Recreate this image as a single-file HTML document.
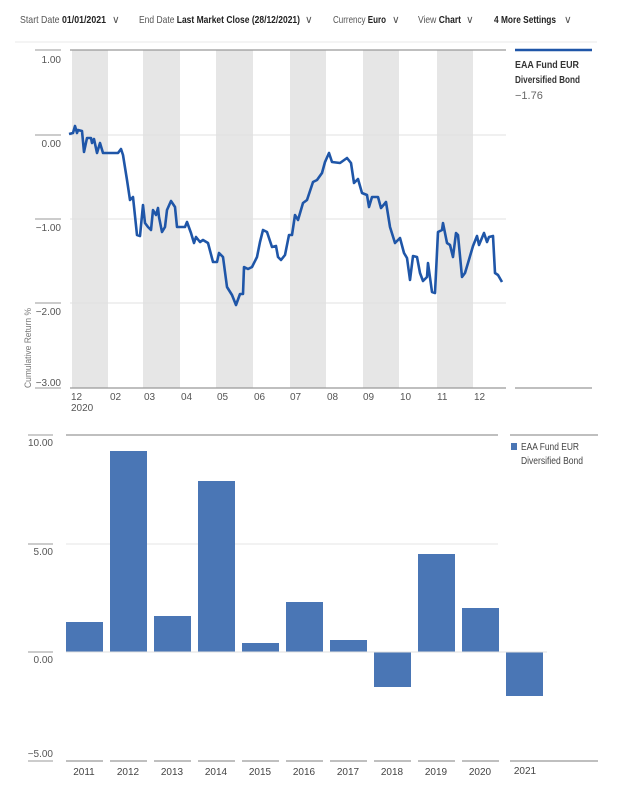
<!DOCTYPE html>
<html><head><meta charset="utf-8"><style>
body{margin:0;width:636px;height:801px;background:#fff;font-family:"Liberation Sans",sans-serif;overflow:hidden}
svg{position:absolute;left:0;top:0}
</style></head><body>
<svg width="636" height="801" viewBox="0 0 636 801" font-family="Liberation Sans, sans-serif">
<g font-size="10.5" fill="#555">
<text x="20" y="23" textLength="86" lengthAdjust="spacingAndGlyphs">Start Date <tspan fill="#222" font-weight="bold">01/01/2021</tspan></text>
<text x="112" y="23">∨</text>
<text x="139" y="23" textLength="161" lengthAdjust="spacingAndGlyphs">End Date <tspan fill="#222" font-weight="bold">Last Market Close (28/12/2021)</tspan></text>
<text x="305" y="23">∨</text>
<text x="333" y="23" textLength="53" lengthAdjust="spacingAndGlyphs">Currency <tspan fill="#222" font-weight="bold">Euro</tspan></text>
<text x="392" y="23">∨</text>
<text x="418" y="23" textLength="43" lengthAdjust="spacingAndGlyphs">View <tspan fill="#222" font-weight="bold">Chart</tspan></text>
<text x="466" y="23">∨</text>
<text x="494" y="23" textLength="62" lengthAdjust="spacingAndGlyphs" fill="#222" font-weight="bold">4 More Settings</text>
<text x="564" y="23">∨</text>
</g>
<line x1="15" y1="42" x2="597" y2="42" stroke="#e8e8e8"/>
<g fill="#e6e6e6">
<rect x="72" y="50" width="36" height="338"/><rect x="143" y="50" width="37" height="338"/>
<rect x="216" y="50" width="37" height="338"/><rect x="290" y="50" width="36" height="338"/>
<rect x="363" y="50" width="36" height="338"/><rect x="437" y="50" width="36" height="338"/>
</g>
<g stroke="#e0e0e0"><line x1="70" y1="135" x2="506" y2="135"/><line x1="70" y1="219" x2="506" y2="219"/><line x1="70" y1="303" x2="506" y2="303"/></g>
<line x1="70" y1="50" x2="506" y2="50" stroke="#999" stroke-width="1.2"/>
<line x1="70" y1="388" x2="506" y2="388" stroke="#999" stroke-width="1.2"/>
<g stroke="#999"><line x1="35" y1="50" x2="61" y2="50"/><line x1="35" y1="135" x2="61" y2="135"/><line x1="35" y1="219" x2="61" y2="219"/><line x1="35" y1="303" x2="61" y2="303"/><line x1="35" y1="388" x2="61" y2="388"/></g>
<g font-size="10" fill="#555" text-anchor="end">
<text x="61" y="63">1.00</text><text x="61" y="147">0.00</text><text x="61" y="231">−1.00</text><text x="61" y="315">−2.00</text><text x="61" y="386">−3.00</text>
</g>
<text transform="translate(31,388) rotate(-90)" font-size="9" fill="#777" textLength="80" lengthAdjust="spacingAndGlyphs">Cumulative Return %</text>
<g font-size="10" fill="#555">
<text x="71" y="400">12</text><text x="71" y="411">2020</text>
<text x="110" y="400">02</text><text x="144" y="400">03</text><text x="181" y="400">04</text><text x="217" y="400">05</text><text x="254" y="400">06</text><text x="290" y="400">07</text><text x="327" y="400">08</text><text x="363" y="400">09</text><text x="400" y="400">10</text><text x="437" y="400">11</text><text x="474" y="400">12</text>
</g>
<polyline fill="none" stroke="#1f56a8" stroke-width="2.6" stroke-linejoin="round" points="69,134 73,133 75,126 77,133 78,130 82,131 84,152 87,138 91,138 92,143 94,139 97,153 100,143 103,153 108,153 118,153 121,149 123,155 127,180 130,200 133,197 137,235 140,236 143,205 145,223 148,227 151,230 153,210 156,215 158,208 159,217 162,232 165,227 167,210 171,201 175,207 177,227 185,227 187,222 191,233 194,243 196,237 200,242 203,240 208,243 213,262 217,262 219,253 223,257 227,287 232,295 236,305 240,294 243,294 244,267 248,269 252,267 257,257 260,242 263,230 267,232 272,247 276,246 278,257 281,260 285,255 287,245 289,235 292,235 295,215 298,220 303,203 307,200 313,182 317,180 322,173 325,162 329,153 332,162 340,163 347,158 351,163 354,183 358,179 362,193 367,195 369,207 372,197 378,197 381,208 386,202 390,227 395,243 400,238 404,253 407,258 410,280 413,256 417,257 420,273 423,281 427,277 428,263 432,292 435,293 438,232 442,230 443,223 447,243 450,245 453,257 456,233 458,235 462,277 465,273 468,263 473,246 477,236 479,245 484,233 487,242 489,237 493,236 495,273 498,275 502,282"/>
<line x1="515" y1="50" x2="592" y2="50" stroke="#1f56a8" stroke-width="2.5"/>
<text x="515" y="68" font-size="10" font-weight="bold" fill="#333" textLength="64" lengthAdjust="spacingAndGlyphs">EAA Fund EUR</text>
<text x="515" y="83" font-size="10" font-weight="bold" fill="#333" textLength="65" lengthAdjust="spacingAndGlyphs">Diversified Bond</text>
<text x="515" y="99" font-size="11" fill="#666">−1.76</text>
<line x1="515" y1="388" x2="592" y2="388" stroke="#999" stroke-width="1.2"/>
<line x1="66" y1="435" x2="498" y2="435" stroke="#999" stroke-width="1.2"/>
<line x1="66" y1="544" x2="498" y2="544" stroke="#e6e6e6"/>
<g stroke="#999"><line x1="28" y1="435" x2="53" y2="435"/><line x1="28" y1="544" x2="53" y2="544"/><line x1="28" y1="652" x2="53" y2="652"/><line x1="28" y1="761" x2="53" y2="761"/></g>
<g font-size="10" fill="#555" text-anchor="end">
<text x="53" y="446">10.00</text><text x="53" y="555">5.00</text><text x="53" y="663">0.00</text><text x="53" y="757">−5.00</text>
</g>
<g fill="#4a76b5">
<rect x="66" y="622" width="37" height="30"/><rect x="110" y="451" width="37" height="201"/>
<rect x="154" y="616" width="37" height="36"/><rect x="198" y="481" width="37" height="171"/>
<rect x="242" y="643" width="37" height="9"/><rect x="286" y="602" width="37" height="50"/>
<rect x="330" y="640" width="37" height="12"/><rect x="374" y="652" width="37" height="35"/>
<rect x="418" y="554" width="37" height="98"/><rect x="462" y="608" width="37" height="44"/>
<rect x="506" y="652" width="37" height="44"/>
</g>
<line x1="66" y1="652" x2="547" y2="652" stroke="#e0e0e0"/>
<g stroke="#999" stroke-width="1.2">
<line x1="66" y1="761" x2="103" y2="761"/><line x1="110" y1="761" x2="147" y2="761"/><line x1="154" y1="761" x2="191" y2="761"/><line x1="198" y1="761" x2="235" y2="761"/><line x1="242" y1="761" x2="279" y2="761"/><line x1="286" y1="761" x2="323" y2="761"/><line x1="330" y1="761" x2="367" y2="761"/><line x1="374" y1="761" x2="411" y2="761"/><line x1="418" y1="761" x2="455" y2="761"/><line x1="462" y1="761" x2="499" y2="761"/><line x1="510" y1="761" x2="598" y2="761"/>
<line x1="510" y1="435" x2="598" y2="435"/>
</g>
<g font-size="10" fill="#444" text-anchor="middle">
<text x="84" y="775">2011</text><text x="128" y="775">2012</text><text x="172" y="775">2013</text><text x="216" y="775">2014</text><text x="260" y="775">2015</text><text x="304" y="775">2016</text><text x="348" y="775">2017</text><text x="392" y="775">2018</text><text x="436" y="775">2019</text><text x="480" y="775">2020</text><text x="525" y="774">2021</text>
</g>
<rect x="511" y="443" width="6" height="7" fill="#4a76b5"/>
<text x="521" y="450" font-size="10" fill="#444" textLength="58" lengthAdjust="spacingAndGlyphs">EAA Fund EUR</text>
<text x="521" y="464" font-size="10" fill="#444" textLength="62" lengthAdjust="spacingAndGlyphs">Diversified Bond</text>
</svg>
</body></html>
